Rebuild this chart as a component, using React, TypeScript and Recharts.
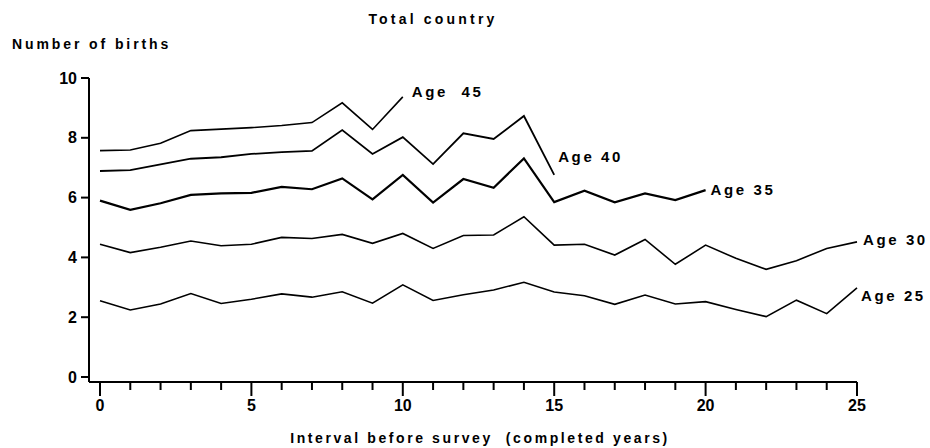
import { LineChart, Line, XAxis, YAxis, LabelList } from "recharts";

// years before survey
const years = [0, 1, 2, 3, 4, 5, 6, 7, 8, 9, 10, 11, 12, 13, 14, 15, 16, 17, 18, 19, 20, 21, 22, 23, 24, 25];

const age25 = [2.55, 2.24, 2.44, 2.79, 2.46, 2.6, 2.78, 2.67, 2.85, 2.47, 3.08, 2.56, 2.75, 2.91, 3.17, 2.84, 2.72, 2.43, 2.74, 2.44, 2.52, 2.26, 2.02, 2.57, 2.12, 2.98];
const age30 = [4.44, 4.16, 4.34, 4.55, 4.39, 4.44, 4.67, 4.63, 4.77, 4.47, 4.8, 4.3, 4.73, 4.75, 5.36, 4.41, 4.44, 4.08, 4.6, 3.77, 4.41, 3.97, 3.6, 3.89, 4.3, 4.52];
const age35 = [5.9, 5.59, 5.81, 6.09, 6.14, 6.16, 6.36, 6.28, 6.64, 5.94, 6.76, 5.83, 6.62, 6.33, 7.31, 5.85, 6.23, 5.84, 6.14, 5.92, 6.25];
const age40 = [6.89, 6.92, 7.11, 7.3, 7.35, 7.46, 7.52, 7.56, 8.26, 7.46, 8.02, 7.12, 8.15, 7.96, 8.73, 6.76];
const age45 = [7.57, 7.59, 7.82, 8.24, 8.29, 8.34, 8.41, 8.51, 9.17, 8.28, 9.37];

const yTicks = [0, 2, 4, 6, 8, 10];
const xTickLabels = [0, 5, 10, 15, 20, 25];

const FONT = "'Liberation Sans', Arial, sans-serif";
const PRE = { whiteSpace: "pre" as const };

const data = years.map((yr, i) => ({
  year: yr,
  a25: age25[i],
  a30: age30[i],
  a35: age35[i],
  a40: age40[i],
  a45: age45[i],
}));

const series = [
  { key: "a25", label: "Age 25", values: age25, dx: 4, dy: 13, width: 1.6 },
  { key: "a30", label: "Age 30", values: age30, dx: 6, dy: 3, width: 1.6 },
  { key: "a35", label: "Age 35", values: age35, dx: 5, dy: 5, width: 2.2 },
  { key: "a40", label: "Age 40", values: age40, dx: 4, dy: -13, width: 1.8 },
  { key: "a45", label: "Age  45", values: age45, dx: 9, dy: 0, width: 1.6 },
];

function XTick(props: any) {
  const { x, y, payload } = props;
  const major = xTickLabels.includes(payload.value);
  return (
    <g>
      <line x1={x} x2={x} y1={y} y2={y + (major ? 14 : 8)} stroke="#000" strokeWidth={2} />
      {major && (
        <text x={x} y={y + 29} textAnchor="middle" fontSize={16} fontWeight="bold" fontFamily={FONT} fill="#000">
          {payload.value}
        </text>
      )}
    </g>
  );
}

export default function App() {
  return (
    <div style={{ position: "absolute", left: 0, top: 0, width: 930, height: 448, background: "#fff" }}>
      <svg width={930} height={448} style={{ position: "absolute", left: 0, top: 0 }}>
        <text x={433} y={24} textAnchor="middle" fontSize={14} fontWeight="bold" fontFamily={FONT} letterSpacing={3.2}>
          Total country
        </text>
        <text x={12} y={49} fontSize={14} fontWeight="bold" fontFamily={FONT} letterSpacing={2.9}>
          Number of births
        </text>
        <text x={480} y={443} textAnchor="middle" fontSize={14} fontWeight="bold" fontFamily={FONT} letterSpacing={2.6} style={PRE}>
          Interval before survey  (completed years)
        </text>
      </svg>
      <LineChart
        width={930}
        height={448}
        data={data}
        margin={{ top: 78, right: 73, bottom: 36, left: 39 }}
        style={{ position: "absolute", left: 0, top: 0 }}
      >
        <XAxis
          dataKey="year"
          type="number"
          domain={[0, 25]}
          ticks={years}
          interval={0}
          padding={{ left: 11, right: 0 }}
          axisLine={{ stroke: "#000", strokeWidth: 2 }}
          tickLine={false}
          tickSize={0}
          tickMargin={0}
          tick={<XTick />}
          height={30}
        />
        <YAxis
          type="number"
          domain={[0, 10]}
          ticks={yTicks}
          padding={{ top: 0, bottom: 5 }}
          width={50}
          axisLine={{ stroke: "#000", strokeWidth: 2 }}
          tickLine={{ stroke: "#000", strokeWidth: 2 }}
          tickSize={8}
          tickMargin={4}
          tick={{ fill: "#000", fontSize: 16, fontWeight: "bold", fontFamily: FONT }}
        />
        {series.map((s) => (
          <Line
            key={s.key}
            dataKey={s.key}
            type="linear"
            stroke="#000"
            strokeWidth={s.width}
            dot={false}
            activeDot={false}
            isAnimationActive={false}
          >
            <LabelList
              dataKey={s.key}
              content={(p: any) =>
                p.index === s.values.length - 1 ? (
                  <text
                    x={p.x + s.dx}
                    y={p.y + s.dy}
                    fontSize={15}
                    fontWeight="bold"
                    fontFamily={FONT}
                    letterSpacing={2.6}
                    fill="#000"
                    style={PRE}
                  >
                    {s.label}
                  </text>
                ) : (
                  <g />
                )
              }
            />
          </Line>
        ))}
      </LineChart>
    </div>
  );
}
